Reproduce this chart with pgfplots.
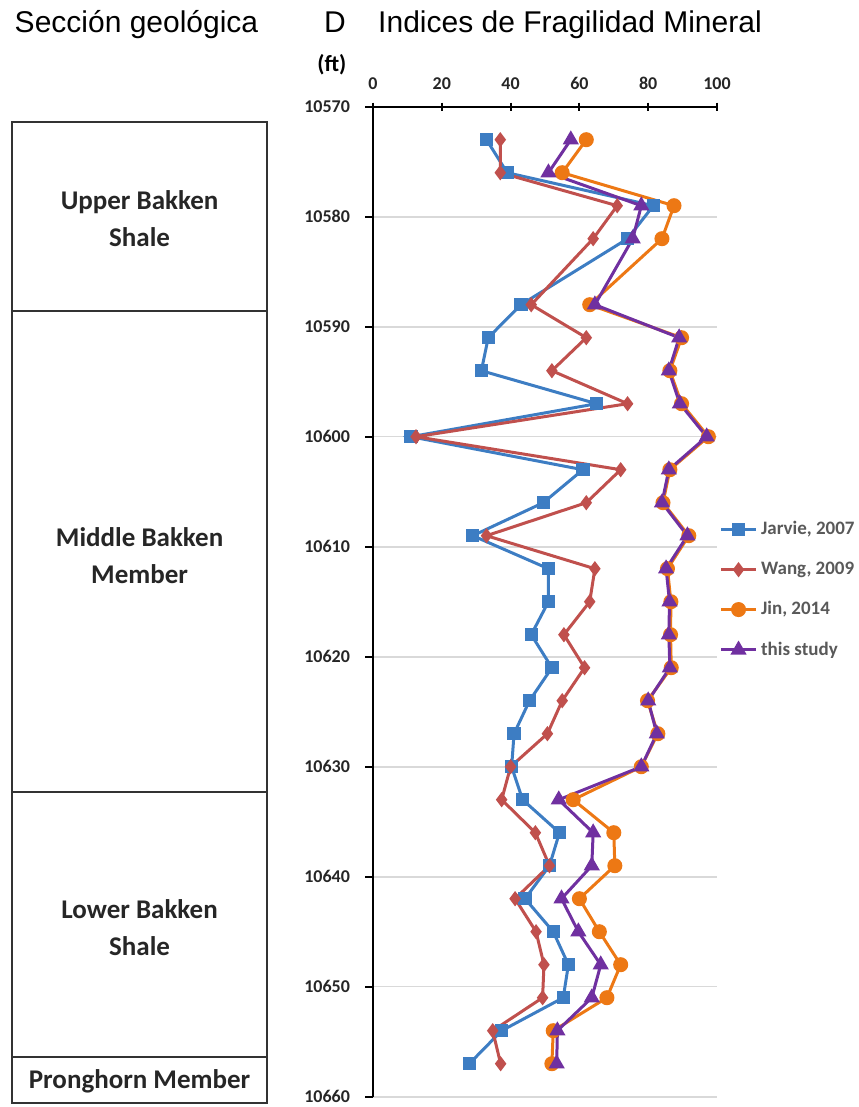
\documentclass[border=0pt]{standalone}
\usepackage{fontspec}
\setmainfont{Carlito}
\newfontfamily\arial{Liberation Sans}
\usepackage{pgfplots}
\pgfplotsset{compat=1.18}
\usepackage{pgfplotstable}

\definecolor{cJar}{RGB}{61,125,195}
\definecolor{cWang}{RGB}{192,80,77}
\definecolor{cJin}{RGB}{237,120,20}
\definecolor{cStudy}{RGB}{112,48,160}

\pgfplotstableread{
depth jarvie wang jin study
10573 33 37 62 57.5
10576 39 37 55 51
10579 81.5 71 87.5 78
10582 74 64 84 75.5
10588 43 46 63 64.5
10591 33.5 62 89.7 89
10594 31.5 52 86.3 86
10597 65 74 89.7 89.2
10600 11 12.5 97.5 97
10603 61 72 86.3 86
10606 49.5 62 84.3 84
10609 29 33 91.8 91.4
10612 51 64.5 85.6 85.2
10615 51 63 86.6 86.2
10618 46 55.5 86.5 86
10621 52 61.5 86.7 86.3
10624 45.5 55 79.8 80
10627 41 50.7 82.8 82.5
10630 40.3 40 78 78
10633 43.5 37.4 58.2 54
10636 54.2 47.2 70 64
10639 51.3 51.3 70.3 63.6
10642 44.2 41.3 60 54.8
10645 52.4 47.4 65.8 59.7
10648 56.8 49.7 72 66.2
10651 55.3 49.3 68 63.6
10654 37.4 34.8 52.4 53.6
10657 28 37.1 52 53.4
}\data

\begin{document}
\begin{tikzpicture}
\useasboundingbox (0,0) rectangle (429pt,553.5pt);
\node[anchor=base, font=\arial\fontsize{15}{18}\selectfont] at (68.25pt,537.2pt) {Sección geológica};
\node[anchor=base, font=\arial\fontsize{15}{18}\selectfont] at (167.5pt,537.2pt) {D};
\node[anchor=base, font=\arial\fontsize{15}{18}\selectfont] at (285pt,537.2pt) {Indices de Fragilidad Mineral};
\node[anchor=center, font=\bfseries\fontsize{11.5}{13}\selectfont] at (165.9pt,521pt) {(ft)};
\begin{axis}[
  at={(186.5pt,5.15pt)}, anchor=south west,
  scale only axis, width=172pt, height=495pt,
  xmin=0, xmax=100, ymin=10570, ymax=10660,
  y dir=reverse,
  scaled y ticks=false, scaled x ticks=false,
  axis x line*=top, axis y line*=left,
  axis line style={line width=1pt, black},
  xtick={0,20,...,100}, ytick={10570,10580,...,10660},
  ymajorgrids, grid style={black!15, line width=0.8pt},
  xtick align=center, ytick align=outside,
  major tick length=4pt,
  tick style={black, line width=1pt},
  /pgf/number format/assume math mode=true,
  /pgf/number format/1000 sep={},
  ticklabel style={font=\bfseries\fontsize{9}{10}\selectfont, text=black!85},
  yticklabel style={xshift=-4pt},
  xticklabel style={yshift=3pt},
  clip=false,
  legend style={at={(0.99,0.512)}, anchor=west, draw=none, fill=none,
    font=\bfseries\fontsize{9.5}{11}\selectfont, text=black!65, row sep=8pt},
  legend cell align=left,
]
\addplot[cJar, line width=1.5pt, mark=square*, mark size=2.6pt] table[x=jarvie,y=depth]{\data};
\addlegendentry{Jarvie, 2007}
\addplot[cWang, line width=1.5pt, mark=diamond*, mark size=2.6pt] table[x=wang,y=depth]{\data};
\addlegendentry{Wang, 2009}
\addplot[cJin, line width=1.5pt, mark=*, mark size=3pt] table[x=jin,y=depth]{\data};
\addlegendentry{Jin, 2014}
\addplot[cStudy, line width=1.5pt, mark=triangle*, mark size=3.2pt] table[x=study,y=depth]{\data};
\addlegendentry{this study}

\draw[line width=1pt, black!80] (axis cs:-104.9,10571.4) rectangle (axis cs:-30.8,10660.6);
\draw[line width=1pt, black!80] (axis cs:-104.9,10588.6) -- (axis cs:-30.8,10588.6);
\draw[line width=1pt, black!80] (axis cs:-104.9,10632.3) -- (axis cs:-30.8,10632.3);
\draw[line width=1pt, black!80] (axis cs:-104.9,10656.4) -- (axis cs:-30.8,10656.4);
\node[font=\bfseries\fontsize{13.5}{18.5}\selectfont, align=center, text=black!85] at (axis cs:-67.85,10580.2) {Upper Bakken\\Shale};
\node[font=\bfseries\fontsize{13.5}{18.5}\selectfont, align=center, text=black!85] at (axis cs:-67.85,10610.85) {Middle Bakken\\Member};
\node[font=\bfseries\fontsize{13.5}{18.5}\selectfont, align=center, text=black!85] at (axis cs:-67.85,10644.6) {Lower Bakken\\Shale};
\node[font=\bfseries\fontsize{13.5}{18.5}\selectfont, align=center, text=black!85] at (axis cs:-67.85,10658.6) {Pronghorn Member};
\end{axis}
\end{tikzpicture}
\end{document}
